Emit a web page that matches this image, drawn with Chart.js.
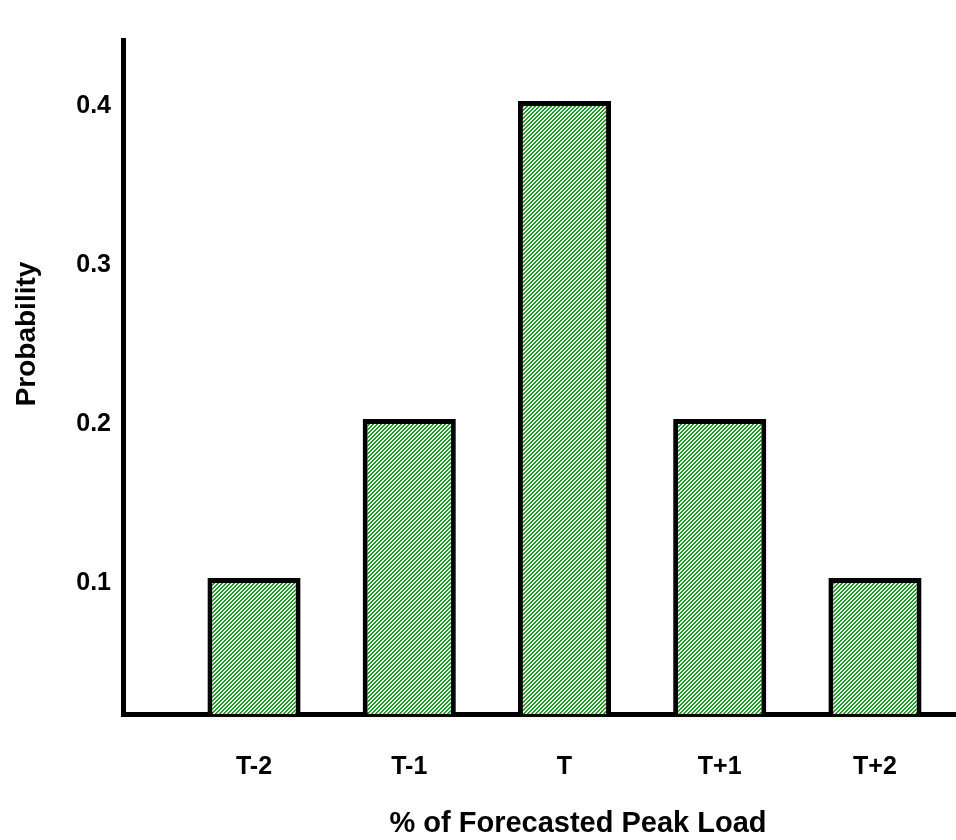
<!DOCTYPE html>
<html lang="en">
<head>
    <meta charset="UTF-8">
    <title>Probability</title>
    <script src="https://cdn.jsdelivr.net/npm/chart.js"></script>
</head>
<style>
body{
  margin: 0;
  background: #fff;
}
</style>
<body>
    <canvas id="myChart" width="956" height="840"></canvas>
</body>
<script>
    // data
    const categories = ['T-2', 'T-1', 'T', 'T+1', 'T+2'];
    const positions = [1, 2, 3, 4, 5];
    const probability = [0.1, 0.2, 0.4, 0.2, 0.1];
    const yTicks = [0.1, 0.2, 0.3, 0.4];

    const fontName = '"Liberation Sans", Arial, sans-serif';

// fine green "/" hatching for the bars
function makeHatch(){
    const c = document.createElement('canvas');
    c.width = 4;
    c.height = 4;
    const g = c.getContext('2d');
    g.fillStyle = '#e2f5e2';
    g.fillRect(0, 0, 4, 4);
    g.fillStyle = '#24952f';
    for (let x = 0; x < 4; x++){
        for (let y = 0; y < 4; y++){
            if ((x + y) % 4 < 2) g.fillRect(x, y, 1, 1);
        }
    }
    return g.createPattern(c, 'repeat');
}

// axis titles sit off-centre in the original, so they are drawn here
const axisTitles = {
    id: 'axisTitles',
    afterDraw(chart){
        const ctx = chart.ctx;
        ctx.save();
        ctx.fillStyle = '#000';
        ctx.font = 'bold 29px ' + fontName;
        ctx.textAlign = 'center';
        ctx.textBaseline = 'middle';
        ctx.fillText('% of Forecasted Peak Load', 578, 824);
        ctx.font = 'bold 28px ' + fontName;
        ctx.translate(27, 334);
        ctx.rotate(-Math.PI / 2);
        ctx.fillText('Probability', 0, 0);
        ctx.restore();
    }
};

const ctx = document.getElementById('myChart').getContext('2d');
const myChart = new Chart(ctx, {
    type: 'bar',
    data: {
        datasets: [{
            data: positions.map((p, i) => ({x: p, y: probability[i]})),
            backgroundColor: makeHatch(),
            borderColor: '#000',
            borderWidth: 5,
            categoryPercentage: 1,
            barPercentage: 0.6
        }]
    },
    options: {
        responsive: false,
        animation: false,
        layout: {
            padding: {top: 40, left: 0, right: 0, bottom: 0}
        },
        plugins: {
            legend: {display: false},
            tooltip: {enabled: false}
        },
        scales: {
            x: {
                type: 'linear',
                offset: false,
                min: 0.156,
                max: 5.522,
                grid: {display: false, drawTicks: false, offset: false},
                border: {display: true, color: '#000', width: 5},
                afterBuildTicks: (scale) => {
                    scale.ticks = positions.map(v => ({value: v}));
                },
                afterFit: (scale) => { scale.height = 126; },
                ticks: {
                    padding: 38,
                    color: '#000',
                    font: {family: fontName, size: 25, weight: 'bold'},
                    callback: (v) => categories[v - 1]
                }
            },
            y: {
                min: 0.0145,
                max: 0.4384,
                grid: {display: false, drawTicks: false},
                border: {display: true, color: '#000', width: 5},
                afterBuildTicks: (scale) => {
                    scale.ticks = yTicks.map(v => ({value: v}));
                },
                afterFit: (scale) => { scale.width = 123; },
                ticks: {
                    padding: 12,
                    labelOffset: 5,
                    color: '#000',
                    font: {family: fontName, size: 25, weight: 'bold'},
                    callback: (v) => v.toFixed(1)
                }
            }
        }
    },
    plugins: [axisTitles]
});
</script>
</html>
